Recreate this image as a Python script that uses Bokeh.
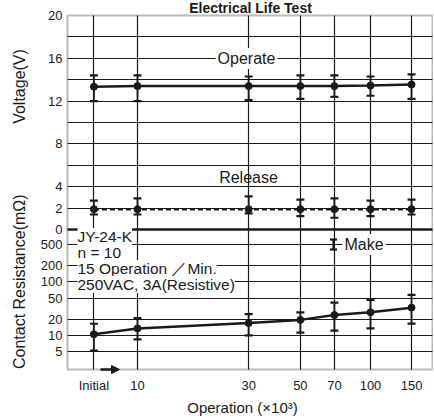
import math
from bokeh.plotting import figure
from bokeh.models import (Range1d, LogScale, FixedTicker, Label, Grid, BoxAnnotation,
                          Arrow, NormalHead)
from bokeh.core.properties import value
from bokeh.embed import file_html
from bokeh.resources import INLINE

# ---------------- data ----------------
x_labels = ["Initial", "10", "30", "50", "70", "100", "150"]
x_ops = [6.5, 10, 30, 50, 70, 100, 150]          # operations (x10^3); "Initial" drawn left of 10

operate_v = [13.35, 13.4, 13.4, 13.4, 13.4, 13.45, 13.55]
operate_hi = [14.4, 14.4, 14.3, 14.4, 14.4, 14.3, 14.5]
operate_lo = [12.0, 12.0, 12.1, 12.2, 12.4, 12.5, 12.2]

release_v = [1.9, 1.9, 1.9, 1.9, 1.9, 1.9, 1.9]
release_hi = [2.7, 2.9, 3.1, 2.8, 2.9, 2.7, 2.8]
release_lo = [1.4, 1.4, 1.5, 1.25, 1.1, 1.25, 1.4]

res_v = [10.5, 13.5, 17.0, 19.5, 24.0, 27.0, 33.0]
res_hi = [16.5, 21.0, 25.0, 27.0, 41.0, 46.0, 57.0]
res_lo = [5.2, 8.4, 10.0, 11.3, 12.3, 13.5, 16.6]

volt_tick_labels = [0, 2, 4, 8, 12, 16, 20]
volt_grid = [2, 4, 6, 8, 10, 12, 14, 16, 18]
res_ticks = [5, 10, 20, 50, 100, 200, 500]

# ---------------- layout (canvas px) ----------------
W, H = 433, 418
FL, FR, FT, FB = 67, 432, 15, 369     # chart frame edges
DIV = 229                             # voltage 0 line / panel boundary
X10_PX, PX_DEC = 137, 233.0           # x: px of 10 and px per decade
V_PX = (DIV - FT) / 20.0              # px per volt
R5_PX, R_PX_DEC = 351, 53.5           # resistance: px of 5 mOhm, px per decade

def x_at(px):
    return 10 ** (1 + (px - X10_PX) / PX_DEC)

def v_at(py):
    return (DIV - py) / V_PX

def r_at(py):
    return 5 * 10 ** ((R5_PX - py) / R_PX_DEC)

X_MIN, X_MAX = x_at(FL), x_at(FR)
V_MIN, V_MAX = v_at(FB), v_at(FT)

FONT = "Liberation Sans"
INK = "#1a1a1a"

p = figure(width=W, height=H, output_backend="svg", toolbar_location=None,
           x_axis_type="log", x_axis_location=None, y_axis_location=None,
           x_range=Range1d(x_at(0), x_at(W)), y_range=Range1d(v_at(H), v_at(0)),
           min_border=0)
p.extra_y_ranges = {"res": Range1d(r_at(H), r_at(0))}
p.extra_y_scales = {"res": LogScale()}
p.outline_line_color = None
p.background_fill_color = "white"
p.border_fill_color = "white"
p.grid.visible = False

# ---------------- grids ----------------
def grid(dim, ticks, width=1.1, yr="default"):
    cb = (V_MIN, V_MAX) if dim == 0 else (X_MIN, X_MAX)
    p.add_layout(Grid(dimension=dim, ticker=FixedTicker(ticks=ticks), cross_bounds=cb,
                      y_range_name=yr, grid_line_color=INK, grid_line_width=width))

grid(0, x_ops, 1.2)
grid(1, volt_grid)
grid(1, res_ticks, yr="res")
grid(1, [0], 2.3)

# ---------------- series ----------------
def series(xs, ys, lo, hi, dash="solid", yr="default"):
    p.line(xs, ys, line_color=INK, line_width=2.5, line_dash=dash, y_range_name=yr)
    p.segment(xs, lo, xs, hi, line_color=INK, line_width=1.8, y_range_name=yr)
    p.scatter(xs, hi, marker="dash", size=8, line_color=INK, line_width=2.2, y_range_name=yr)
    p.scatter(xs, lo, marker="dash", size=8, line_color=INK, line_width=2.2, y_range_name=yr)
    p.scatter(xs, ys, marker="circle", size=7, fill_color=INK, line_color=INK, y_range_name=yr)

series(x_ops, operate_v, operate_lo, operate_hi)
series(x_ops, release_v, release_lo, release_hi, dash="5 3")
series(x_ops, res_v, res_lo, res_hi, yr="res")

# ---------------- tick labels ----------------
tick_kw = dict(text_font=value(FONT), text_font_size="13px", text_color=INK,
               text_baseline="middle")
p.text(x=[x_at(62)] * len(volt_tick_labels), y=volt_tick_labels,
       text=[str(v) for v in volt_tick_labels], text_align="right", **tick_kw)
p.text(x=[x_at(62)] * len(res_ticks), y=res_ticks, text=[str(r) for r in res_ticks],
       text_align="right", y_range_name="res", **tick_kw)
p.text(x=x_ops, y=[v_at(385)] * len(x_ops), text=x_labels, text_align="center", **tick_kw)

# frame
p.add_layout(BoxAnnotation(left=X_MIN, right=X_MAX, bottom=V_MIN, top=V_MAX,
                           fill_alpha=0, line_color=INK, line_width=2))

# ---------------- texts ----------------
def label(txt, px, py, size="15px", align="left", bg=True, angle=0.0, style="normal", pad=2):
    kw = dict(background_fill_color="white", padding=pad) if bg else {}
    p.add_layout(Label(x=x_at(px), y=v_at(py), text=txt, text_font=FONT,
                       text_font_size=size, text_color=INK, text_align=align,
                       text_baseline="middle", angle=angle, text_font_style=style, **kw))

label("Operate", 246, 58, size="16px", align="center")
label("Release", 248, 177, size="16px", align="center", bg=False)
label("JY-24-K", 77, 236, size="15.5px", pad=0)
label("n = 10", 77, 252, size="15.5px", pad=0)
label("15 Operation \uff0fMin.", 77, 268, size="15.5px", pad=0)
label("250VAC, 3A(Resistive)", 77, 284, size="15.5px", pad=0)
label("Make", 342, 244, size="16px")

# legend key for "Make" (error-bar symbol), drawn above labels
kx = [x_at(333)]
for yy in (v_at(239), v_at(249)):
    rr = p.scatter(kx, [yy], marker="dash", size=7, line_color=INK, line_width=2.2)
    rr.level = "overlay"
rr = p.segment(kx, [v_at(239)], kx, [v_at(249)], line_color=INK, line_width=2.2)
rr.level = "overlay"

# axis titles and chart title
label("Voltage(V)", 19, 86, size="16px", align="center", bg=False, angle=math.pi / 2)
label("Contact  Resistance(m\u03a9)", 19, 279, size="16px", align="center", bg=False,
      angle=math.pi / 2)
label("Operation (\u00d710\u00b3)", 242, 407, size="15px", align="center", bg=False)
label("Electrical Life Test", 250, 7, size="14px", align="center", bg=False, style="bold")

# arrow on the bottom axis (break between Initial and 10)
p.add_layout(Arrow(x_start=x_at(100), y_start=V_MIN, x_end=x_at(119), y_end=V_MIN,
                   line_color=INK, line_width=2.5,
                   end=NormalHead(size=8, fill_color=INK, line_color=INK)))

open("out.html", "w").write(file_html(p, INLINE))
